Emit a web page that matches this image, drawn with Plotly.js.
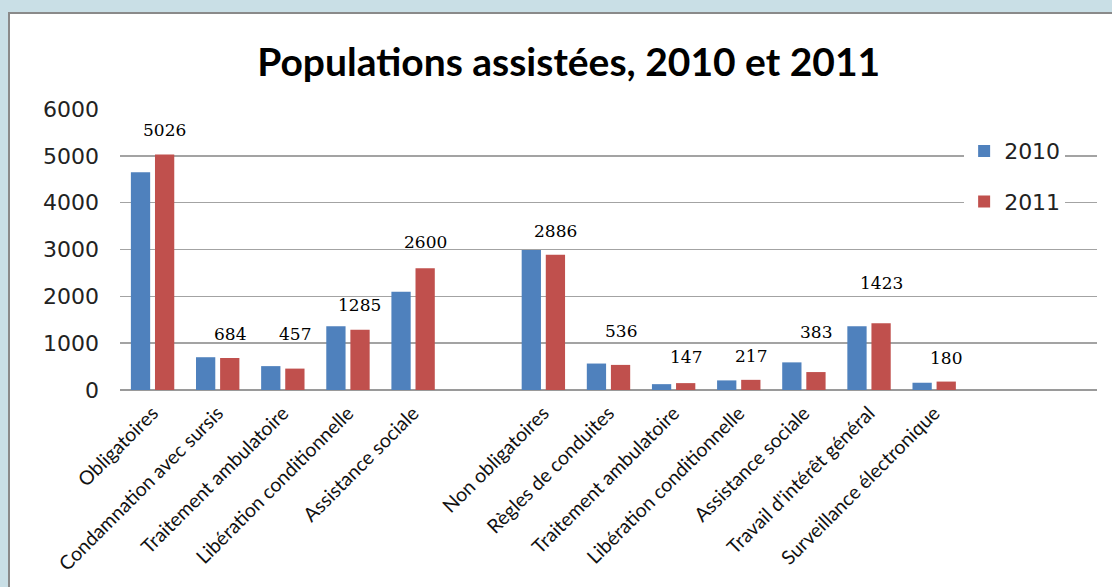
<!DOCTYPE html>
<html>
<head>
<meta charset="utf-8">
<script src="https://cdn.plot.ly/plotly-3.0.1.min.js"></script>
<style>
  html, body { margin:0; padding:0; background:#c9dfe6; width:1112px; height:587px; overflow:hidden; }
  #chart { position:absolute; left:8px; top:12px; width:1102px; height:573px;
           border-left:2px solid #8a8a8a; border-top:2px solid #8a8a8a; background:#fff; }
</style>
</head>
<body>
<div id="chart"></div>
<script>
// Categories ("" = empty slot in the category axis)
const categories = [
  "Obligatoires", "Condamnation avec sursis", "Traitement ambulatoire",
  "Libération conditionnelle", "Assistance sociale", "",
  "Non obligatoires", "Règles de conduites", "Traitement ambulatoire",
  "Libération conditionnelle", "Assistance sociale", "Travail d'intérêt général",
  "Surveillance électronique", "", ""
];
const values2010 = [4650, 700, 510, 1360, 2100, null, 2990, 565, 125, 205, 590, 1360, 155, null, null];
const values2011 = [5026, 684, 457, 1285, 2600, null, 2886, 536, 147, 217, 383, 1423, 180, null, null];
const seriesNames = ["2010", "2011"];
// extra pixel lift of each 2011 data label above its bar
const labelLift = [25, 24, 35, 25, 26, null, 24, 34, 26, 24, 40, 40, 24, null, null];

const idx = categories.map((c, i) => i);

const traces = [
  { type: "bar", name: seriesNames[0], x: idx, y: values2010, legendgroup: "a",
    marker: { color: "#4f81bd" }, hoverinfo: "y" },
  { type: "bar", name: seriesNames[1], x: idx, y: values2011, legendgroup: "b",
    marker: { color: "#c0504d" }, hoverinfo: "y" }
];

const annotations = [];
values2011.forEach((v, i) => {
  if (v === null) return;
  annotations.push({
    x: i, y: v, xref: "x", yref: "y", text: String(v), showarrow: false,
    xanchor: "center", yanchor: "middle", xshift: 12, yshift: labelLift[i],
    font: { family: "DejaVu Serif", size: 17, color: "#000" }
  });
});

const layout = {
  width: 1102, height: 573,
  margin: { l: 110, r: 15, t: 95, b: 197 },
  paper_bgcolor: "#ffffff", plot_bgcolor: "#ffffff",
  title: { text: "<b>Populations assistées, 2010 et 2011</b>",
           font: { family: "Lato", size: 39, color: "#000" },
           x: 0.507, xanchor: "center", y: 0.915, yanchor: "middle", yref: "container" },
  barmode: "group", bargap: 0.26, bargroupgap: 0.2,
  xaxis: {
    range: [-0.5, categories.length - 0.5],
    tickmode: "array", tickvals: idx, ticktext: categories,
    tickangle: -45, showgrid: false, zeroline: false, showline: false,
    ticks: "", ticklabelstandoff: 7,
    tickfont: { family: "Lato", size: 19.5, color: "#111" }
  },
  yaxis: {
    range: [0, 6000], dtick: 1000, tick0: 0,
    showgrid: true, gridcolor: "#a3a3a3", gridwidth: 1.5,
    zeroline: true, zerolinecolor: "#9a9a9a", zerolinewidth: 2,
    showline: false, ticks: "", ticklabelstandoff: 20,
    tickfont: { family: "DejaVu Sans", size: 22, color: "#222" }
  },
  showlegend: true,
  legend: {
    x: 0.864, xanchor: "left", y: 0.925, yanchor: "top",
    bgcolor: "#ffffff", borderwidth: 0,
    traceorder: "grouped", tracegroupgap: 19,
    font: { family: "DejaVu Sans", size: 22, color: "#222" }
  },
  annotations: annotations
};

Plotly.newPlot("chart", traces, layout, { displayModeBar: false, staticPlot: true });
</script>
</body>
</html>
